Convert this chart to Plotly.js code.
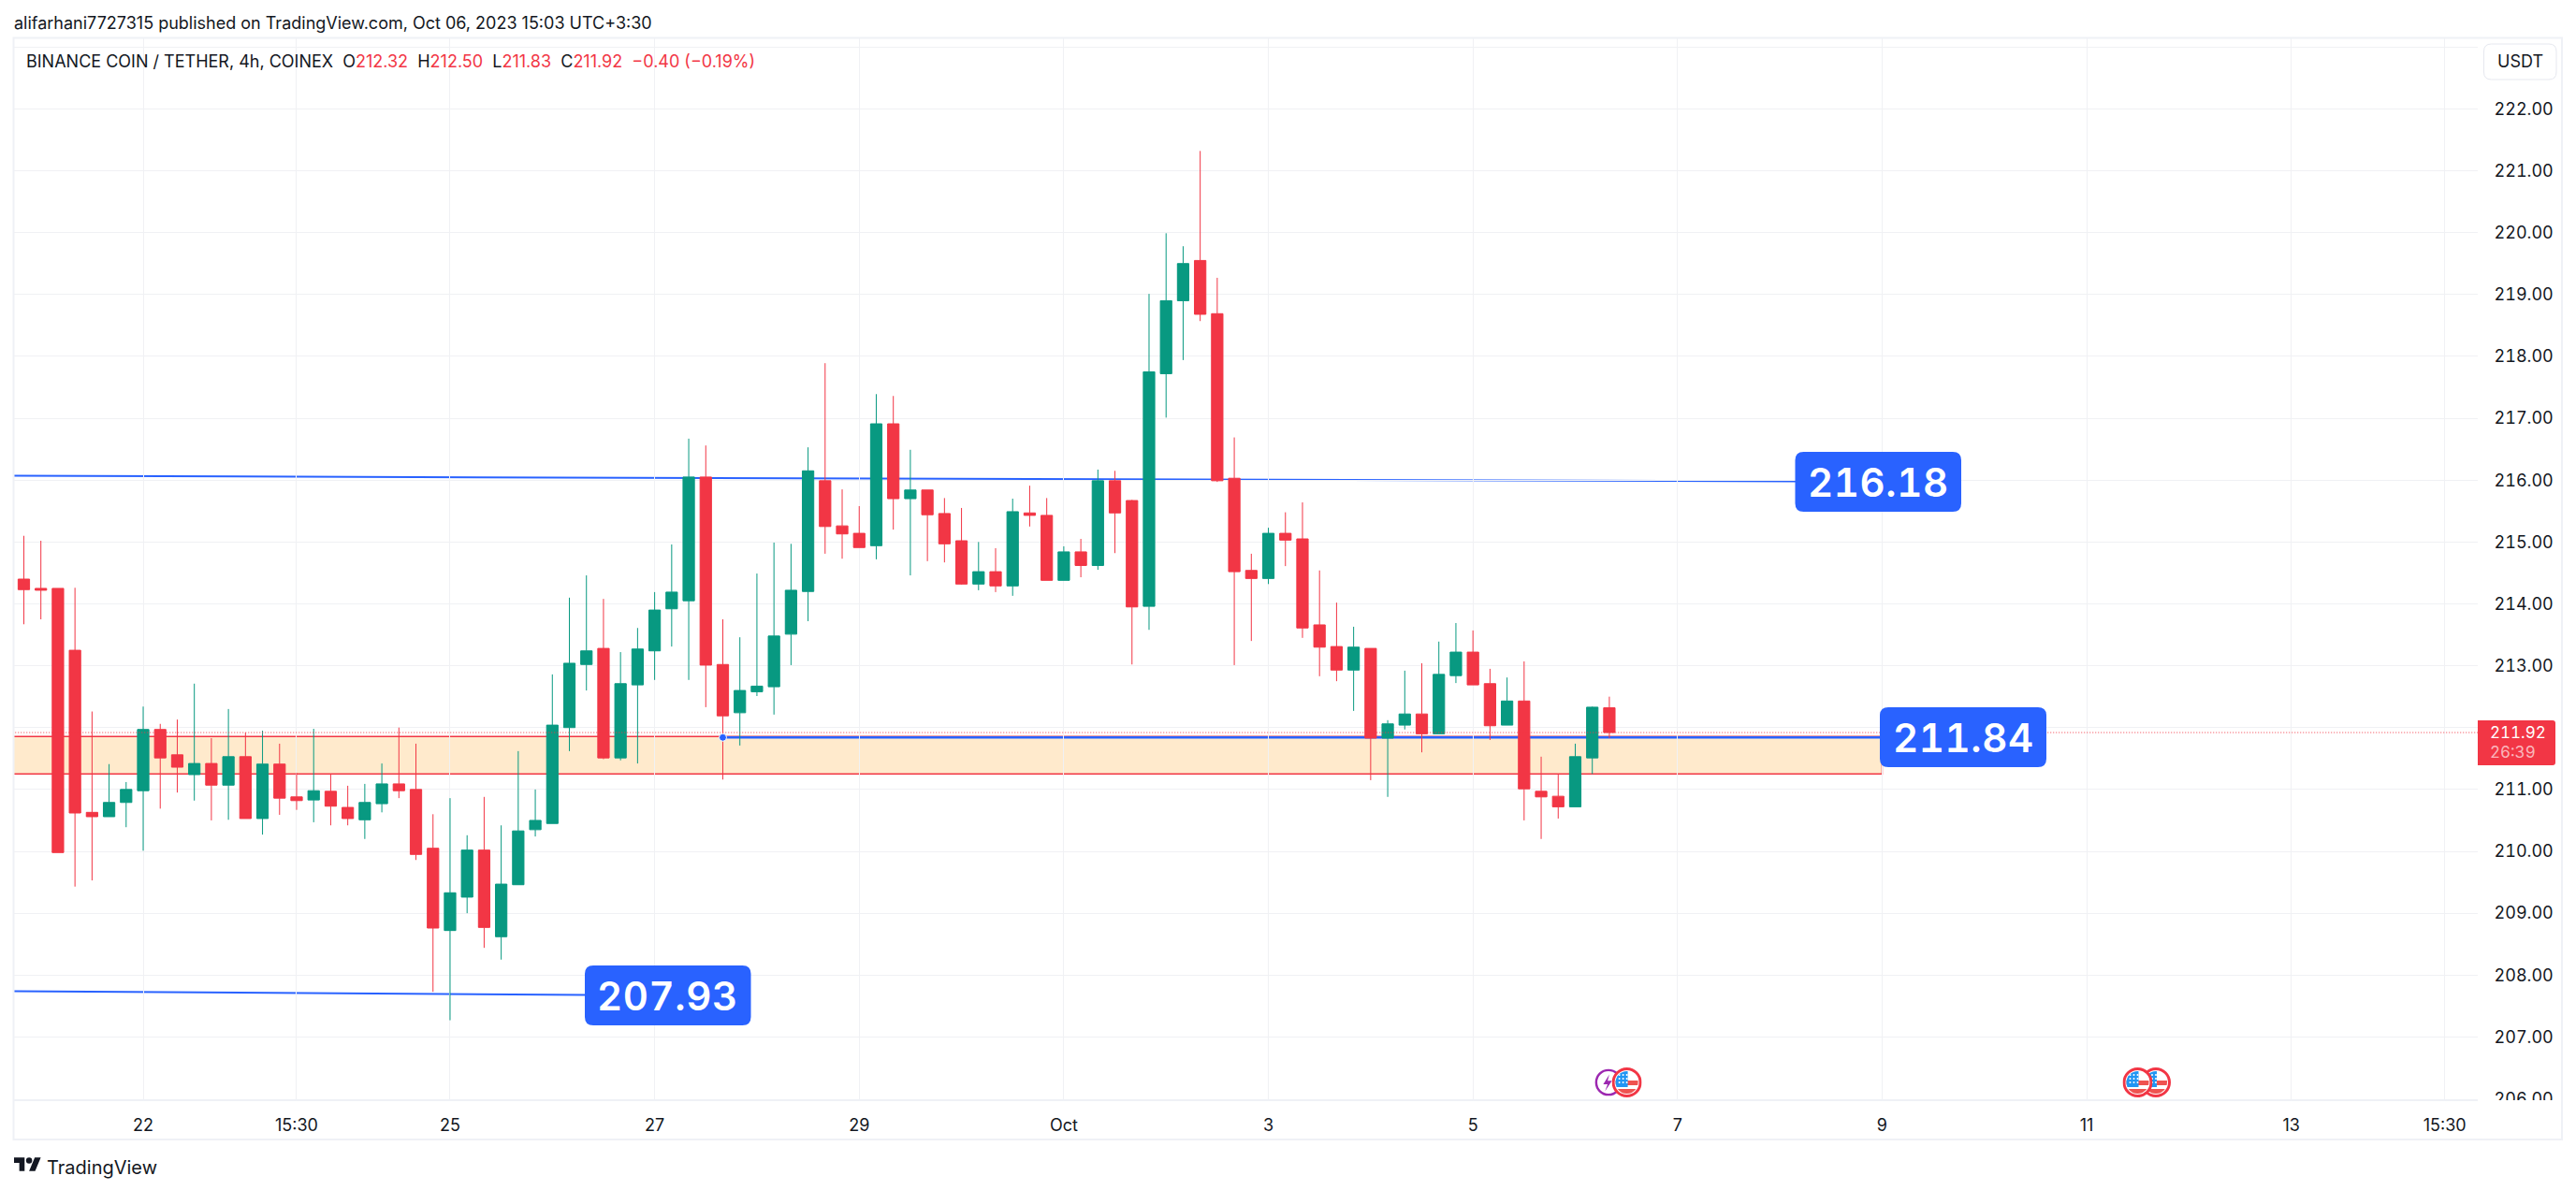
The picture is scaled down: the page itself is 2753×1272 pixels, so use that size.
<!DOCTYPE html>
<html>
<head>
<meta charset="utf-8">
<script src="https://cdn.plot.ly/plotly-3.0.1.min.js"></script>
<style>
html,body{margin:0;padding:0;background:#fff;}
#chart{width:2753px;height:1272px;}
text.annotation-text[style*="font-size: 42px"]{font-feature-settings:"tnum";letter-spacing:0.6px;}
text.annotation-text[style*="font-size: 17px"]{font-feature-settings:"tnum";}
.ytick text{font-feature-settings:"tnum";}
</style>
</head>
<body>
<div id="chart"></div>
<script>
// Candle data (4h bars)
const opens = [214.40,214.25,214.25,213.25,210.63,210.56,210.79,210.98,211.97,211.56,211.24,211.42,211.07,211.53,210.53,211.41,210.88,210.83,210.97,210.71,210.51,210.77,211.09,211.00,210.05,208.72,209.26,210.02,208.62,209.46,210.35,210.45,212.00,213.02,213.28,211.51,212.69,213.24,213.92,214.05,216.05,213.02,212.24,212.58,212.66,213.51,214.20,215.99,215.26,215.14,214.94,216.91,215.70,215.84,215.46,215.02,214.32,214.52,214.29,215.47,215.43,214.38,214.84,214.62,215.99,215.67,213.96,217.72,218.90,219.55,218.69,216.03,214.54,214.41,215.14,215.05,213.66,213.31,212.93,213.28,211.83,212.04,212.22,211.90,212.84,213.22,212.71,212.04,212.43,210.97,210.89,210.72,211.51,212.32];
const highs = [215.10,215.02,214.25,214.26,212.26,211.41,211.12,212.34,212.06,212.13,212.71,211.83,212.30,211.92,211.95,211.74,211.27,211.98,211.24,211.06,211.09,211.42,212.00,211.74,210.60,210.86,210.26,210.88,210.42,211.62,211.00,212.86,214.10,214.46,214.08,213.22,213.61,214.19,214.96,216.67,216.56,213.75,213.46,214.49,214.99,214.97,216.53,217.89,215.85,215.58,217.39,217.36,216.49,215.84,215.71,215.55,215.00,214.90,215.70,215.91,215.71,214.93,215.05,216.17,216.15,215.68,219.01,219.99,219.78,221.32,219.27,216.69,214.81,215.23,215.48,215.64,214.54,214.02,213.63,213.28,212.12,212.92,213.04,213.39,213.69,213.57,212.95,212.81,213.07,211.53,211.25,211.74,212.34,212.50];
const lows = [213.67,213.75,209.98,209.43,209.53,210.56,210.39,210.01,210.69,210.95,210.82,210.50,210.51,210.53,210.27,210.59,210.67,210.47,210.42,210.42,210.20,210.63,210.86,209.86,207.73,207.27,209.00,208.44,208.25,209.46,210.24,210.45,211.62,212.60,211.49,211.47,211.42,212.77,213.31,212.77,212.33,211.16,211.71,212.51,212.21,213.01,213.72,214.81,214.73,214.91,214.72,215.20,214.46,214.69,214.67,214.31,214.22,214.19,214.13,215.25,214.38,214.38,214.43,214.55,214.82,213.02,213.58,217.01,217.94,218.57,215.97,213.01,213.40,214.32,214.61,213.45,212.83,212.75,212.27,211.15,210.88,211.97,211.60,211.90,212.72,212.69,211.80,212.04,210.50,210.20,210.53,210.72,211.25,211.83];
const closes = [214.23,214.22,209.98,210.62,210.56,210.79,211.00,211.97,211.51,211.36,211.42,211.07,211.53,210.53,211.41,210.86,210.82,210.98,210.73,210.53,210.79,211.09,210.98,209.95,208.76,209.33,210.02,208.77,209.47,210.33,210.50,212.04,213.04,213.24,211.51,212.71,213.27,213.90,214.19,216.05,213.01,212.19,212.60,212.67,213.48,214.22,216.15,215.25,215.13,214.91,216.91,215.70,215.84,215.44,214.97,214.32,214.52,214.29,215.49,215.43,214.38,214.84,214.62,215.99,215.47,213.95,217.75,218.90,219.50,218.68,215.99,214.52,214.41,215.14,215.03,213.61,213.30,212.93,213.30,211.83,212.06,212.22,211.90,212.86,213.22,212.69,212.03,212.43,211.01,210.88,210.72,211.53,212.33,211.92];

// Axis labels (212.00 is hidden behind the last-price tag in the reference)
const priceTicks = [206,207,208,209,210,211,212,213,214,215,216,217,218,219,220,221,222,223];
const priceLabels = ["206.00","207.00","208.00","209.00","210.00","211.00","","213.00","214.00","215.00","216.00","217.00","218.00","219.00","220.00","221.00","222.00",""];
const timeTickBars = [7,16,25,37,49,61,73,85,97,109,121,133,142];
const timeTickLabels = ["22","15:30","25","27","29","Oct","3","5","7","9","11","13","15:30"];

// Drawings
const upperLevel = {fromBar:-1, toBar:104, from:216.07, to:215.98, label:"216.18"};
const lowerLevel = {fromBar:-1, toBar:33.0, from:207.74, to:207.68, label:"207.93"};
const midLevel = {fromBar:41, toBar:109, price:211.84, label:"211.84"};
const zone = {fromBar:-1, toBar:109, top:211.855, bottom:211.25};
const lastPrice = 211.92;

const FONT = 'Inter, "Noto Sans", sans-serif';
const INK = '#131722', RED = '#f23645', GREEN = '#089981', BLUE = '#2962ff', GRID = '#f0f1f4', FRAME = '#eff1f6';

// 4h bars, times in UTC+3:30
const barTime = i => {
  const d = new Date(Date.UTC(2023, 8, 20, 23, 30) + i * 4 * 3600 * 1000);
  return d.toISOString().slice(0, 16).replace('T', ' ');
};
const barTimes = opens.map((_, i) => barTime(i));

// Plot box in pixels
const L = 15, R = 2648, T = 41, B = 1175;
const px = x => (x - L) / (R - L);
const py = y => (B - y) / (B - T);

function roundRect(w, h, r) {
  const a = w / 2, b = h / 2;
  return `M${-a + r},${-b} L${a - r},${-b} Q${a},${-b} ${a},${-b + r} L${a},${b - r} Q${a},${b} ${a - r},${b} L${-a + r},${b} Q${-a},${b} ${-a},${b - r} L${-a},${-b + r} Q${-a},${-b} ${-a + r},${-b} Z`;
}
function pill(x0, x1, y0, y1, r, fill, line) {
  return {type:'path', layer:'above', xref:'paper', yref:'paper', xsizemode:'pixel', ysizemode:'pixel',
    xanchor:px((x0 + x1) / 2), yanchor:py((y0 + y1) / 2), path:roundRect(x1 - x0, y1 - y0, r),
    fillcolor:fill, line:line || {width:0}};
}
function paperRect(x0, x1, y0, y1, fill, line) {
  return {type:'rect', layer:'above', xref:'paper', yref:'paper', x0:px(x0), x1:px(x1), y0:py(y0), y1:py(y1),
    fillcolor:fill, line:line || {width:0}};
}
function dataLine(a, b, y0, y1, color, width, dash, layer) {
  return {type:'line', layer:layer || 'below', xref:'x', yref:'y', x0:barTime(a), x1:barTime(b), y0:y0, y1:y1,
    line:{color:color, width:width, dash:dash || 'solid'}};
}
function text(x, y, str, size, color, anchor, weight) {
  return {xref:'paper', yref:'paper', x:px(x), y:py(y), text:str, showarrow:false, xanchor:anchor || 'left', yanchor:'middle',
    font:{family:FONT, size:size, color:color || INK, weight:weight || 400}, borderpad:0, borderwidth:0};
}

const shapes = [
  {type:'rect', layer:'below', xref:'x', yref:'y', x0:barTime(zone.fromBar), x1:barTime(zone.toBar), y0:zone.bottom, y1:zone.top,
    fillcolor:'rgba(255,152,0,0.2)', line:{color:RED, width:1.5}},
  dataLine(upperLevel.fromBar, upperLevel.toBar, upperLevel.from, upperLevel.to, BLUE, 2),
  dataLine(lowerLevel.fromBar, lowerLevel.toBar, lowerLevel.from, lowerLevel.to, BLUE, 2),
  dataLine(midLevel.fromBar, midLevel.toBar, midLevel.price, midLevel.price, BLUE, 2.5),
  dataLine(-1, 144, lastPrice, lastPrice, RED, 1, '1px,2px', 'above'),
  {type:'circle', layer:'above', xref:'x', yref:'y', xsizemode:'pixel', ysizemode:'pixel', xanchor:barTime(midLevel.fromBar), yanchor:midLevel.price,
    x0:-4, x1:4, y0:-4, y1:4, fillcolor:BLUE, line:{color:'#ffffff', width:1}},
  paperRect(2649, 2737, 1176, 1217, '#ffffff'),
  paperRect(14.5, 2738, 40.5, 1218, 'rgba(0,0,0,0)', {color:FRAME, width:2}),
  pill(1918.5, 2096, 483, 547, 9, BLUE),
  pill(2009, 2187, 756, 820, 9, BLUE),
  pill(625, 802.5, 1032, 1096, 9, BLUE),
  pill(2654.5, 2732, 47, 85, 8, '#ffffff', {color:'#e6e8ef', width:1}),
  {type:'path', layer:'above', xref:'paper', yref:'paper', xsizemode:'pixel', ysizemode:'pixel', xanchor:px(2689.5), yanchor:py(794),
    path:'M-41.5,-24 L38.5,-24 Q41.5,-24 41.5,-21 L41.5,21 Q41.5,24 38.5,24 L-41.5,24 Z', fillcolor:RED, line:{width:0}}
];

const legendValue = s => `<span style="color:${RED}">${s}</span>`;
const sp = '\u00a0\u00a0';
const annotations = [
  text(15, 24, 'alifarhani7727315 published on TradingView.com, Oct 06, 2023 15:03 UTC+3:30', 18),
  text(27.5, 65, `BINANCE COIN / TETHER, 4h, COINEX${sp}O${legendValue('212.32')}${sp}H${legendValue('212.50')}${sp}L${legendValue('211.83')}${sp}C${legendValue('211.92')}${sp}${legendValue('\u22120.40 (\u22120.19%)')}`, 18),
  text(2693, 65, 'USDT', 18, INK, 'center'),
  text(2661, 783, '211.92', 17, '#ffffff'),
  text(2661, 804, '26:39', 17, 'rgba(255,255,255,0.65)'),
  text(2007.3, 515, upperLevel.label, 42, '#ffffff', 'center', 600),
  text(2098, 788, midLevel.label, 42, '#ffffff', 'center', 600),
  text(713.8, 1064, lowerLevel.label, 42, '#ffffff', 'center', 600),
  text(50, 1248, 'TradingView', 20, INK)
];

const svgUri = s => 'data:image/svg+xml;utf8,' + encodeURIComponent(s);
const flagSvg = svgUri('<svg xmlns="http://www.w3.org/2000/svg" viewBox="0 0 32 32"><defs><clipPath id="c"><circle cx="16" cy="16" r="12"/></clipPath></defs><circle cx="16" cy="16" r="14.5" fill="#fff" stroke="#f23645" stroke-width="3"/><g clip-path="url(#c)"><rect width="32" height="32" fill="#fff"/><rect y="14" width="32" height="5" fill="#ef5350"/><rect y="23" width="32" height="6" fill="#ef5350"/><rect width="17" height="19" y="2" fill="#2196f3"/><g fill="#fff"><circle cx="8" cy="8" r="1"/><circle cx="12" cy="8" r="1"/><circle cx="16" cy="8" r="1"/><circle cx="8" cy="12" r="1"/><circle cx="12" cy="12" r="1"/><circle cx="16" cy="12" r="1"/><circle cx="8" cy="16" r="1"/><circle cx="12" cy="16" r="1"/><circle cx="16" cy="16" r="1"/></g></g></svg>');
const boltSvg = svgUri('<svg xmlns="http://www.w3.org/2000/svg" viewBox="0 0 32 32"><circle cx="16" cy="16" r="14" fill="#fff" stroke="#9c27b0" stroke-width="2.6"/><path d="M17 7 L10 18 L15 18 L12 26 L20 14 L15 14 Z" fill="#9c27b0"/></svg>');
const logoSvg = svgUri('<svg xmlns="http://www.w3.org/2000/svg" viewBox="0 0 36 18"><path d="M14 18H7V7H0V0h14v18zM28 18h-8l7.5-18h8L28 18z" fill="#131722"/><circle cx="20" cy="4" r="4" fill="#131722"/></svg>');
const icon = (src, x, y, w, h) => ({source:src, xref:'paper', yref:'paper', x:px(x), y:py(y), sizex:w / (R - L), sizey:h / (B - T),
  xanchor:'center', yanchor:'middle', sizing:'contain', layer:'above'});
const images = [
  icon(boltSvg, 1719, 1157, 30, 30),
  icon(flagSvg, 1738.6, 1157, 32, 32),
  icon(flagSvg, 2304, 1157, 32, 32),
  icon(flagSvg, 2284.5, 1157, 32, 32),
  icon(logoSvg, 29.5, 1244.5, 29, 15)
];

const trace = {
  type:'candlestick', x:barTimes, open:opens, high:highs, low:lows, close:closes,
  increasing:{line:{color:GREEN, width:1}, fillcolor:GREEN},
  decreasing:{line:{color:RED, width:1}, fillcolor:RED},
  whiskerwidth:0, hoverinfo:'skip', showlegend:false
};

const layout = {
  width:2753, height:1272, paper_bgcolor:'#ffffff', plot_bgcolor:'#ffffff', showlegend:false,
  margin:{l:L, r:2753 - R, t:T, b:1272 - B, pad:0},
  boxgap:0.33, boxgroupgap:0,
  font:{family:FONT, color:INK, size:18},
  xaxis:{type:'date', range:[barTime(-0.574), barTime(143.94)], rangeslider:{visible:false},
    tickmode:'array', tickvals:timeTickBars.map(barTime), ticktext:timeTickLabels, tickangle:0,
    showgrid:true, gridcolor:GRID, gridwidth:1, zeroline:false,
    showline:true, linecolor:FRAME, linewidth:1.5, ticks:'outside', ticklen:11, tickcolor:'rgba(0,0,0,0)',
    tickfont:{family:FONT, size:18, color:INK}},
  yaxis:{side:'right', range:[205.993, 223.14], tickmode:'array', tickvals:priceTicks, ticktext:priceLabels,
    showgrid:true, gridcolor:GRID, gridwidth:1, zeroline:false, showline:false,
    ticks:'outside', ticklen:13, tickcolor:'rgba(0,0,0,0)',
    tickfont:{family:FONT, size:18, color:INK}},
  shapes:shapes, annotations:annotations, images:images
};

Plotly.newPlot('chart', [trace], layout, {displayModeBar:false, responsive:false});
</script>
</body>
</html>
